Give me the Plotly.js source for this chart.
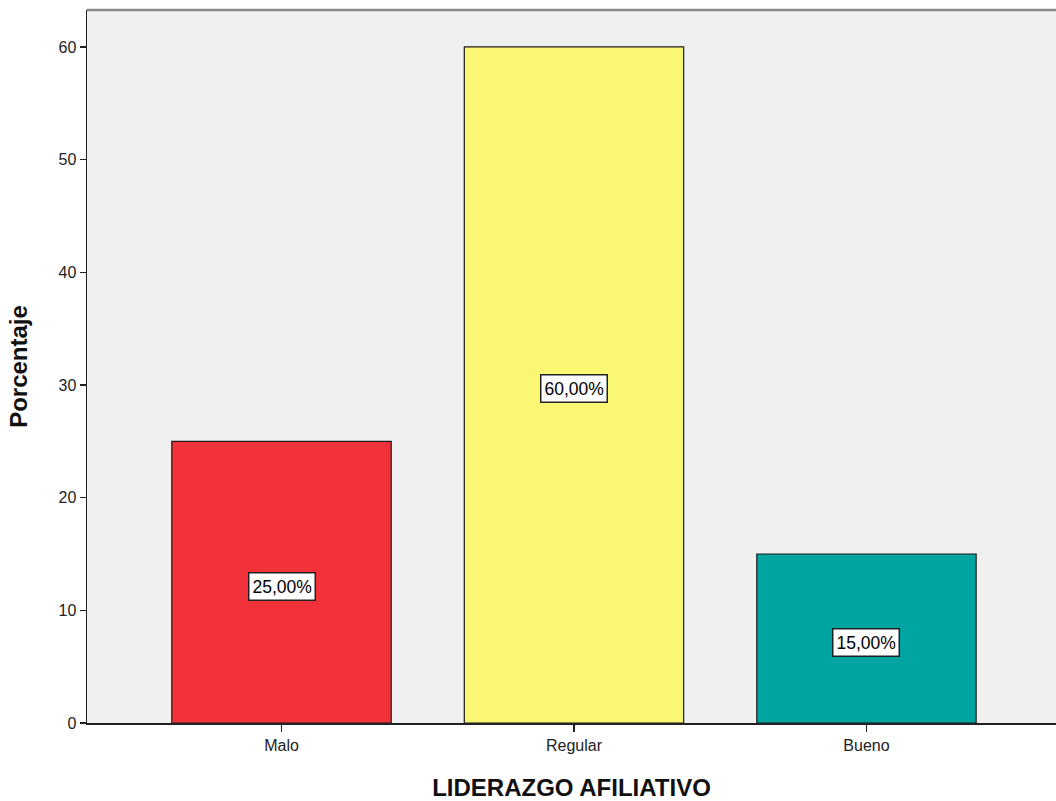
<!DOCTYPE html>
<html>
<head>
<meta charset="utf-8">
<script src="https://cdn.plot.ly/plotly-3.0.1.min.js"></script>
<style>html,body{margin:0;padding:0;background:#fff;}#chart{width:1056px;height:801px;}</style>
</head>
<body>
<div id="chart"></div>
<script>
const categories = ["Malo", "Regular", "Bueno"];
const values = [25, 60, 15];
const labels = ["25,00%", "60,00%", "15,00%"];
const colors = ["#F2323A", "#FAF775", "#00A5A2"];
const yTicks = [0, 10, 20, 30, 40, 50, 60];

const trace = {
  type: "bar",
  x: categories,
  y: values,
  width: 0.75,
  marker: {color: colors, line: {color: "#1a1a1a", width: 1.2}},
  hoverinfo: "none"
};

const annotations = categories.map((c, i) => ({
  x: c, y: values[i] / 2, xref: "x", yref: "y", yshift: -4,
  text: labels[i], showarrow: false,
  bgcolor: "#ffffff", bordercolor: "#222", borderwidth: 1.5, borderpad: 3,
  font: {family: "Arial, Liberation Sans, sans-serif", size: 17.5, color: "#000"}
}));

const layout = {
  width: 1056, height: 801,
  margin: {l: 87, r: 0, t: 10, b: 78},
  paper_bgcolor: "#ffffff",
  plot_bgcolor: "#F0F0F0",
  showlegend: false,
  bargap: 0.25,
  xaxis: {
    type: "category",
    range: [-0.665, 2.648],
    showgrid: false, zeroline: false,
    showline: true, linecolor: "#222", linewidth: 1.5,
    ticks: "outside", ticklen: 7, tickcolor: "#222", tickwidth: 1.5,
    tickfont: {family: "Arial, Liberation Sans, sans-serif", size: 16, color: "#222"},
    title: {text: "<b>LIDERAZGO AFILIATIVO</b>", standoff: 27,
      font: {family: "Arial, Liberation Sans, sans-serif", size: 24, color: "#111"}}
  },
  yaxis: {
    range: [0, 63.28],
    tickvals: yTicks,
    showgrid: false, zeroline: false,
    showline: true, linecolor: "#222", linewidth: 1.5,
    ticks: "outside", ticklen: 6, tickcolor: "#222", tickwidth: 1.5,
    tickfont: {family: "Arial, Liberation Sans, sans-serif", size: 16, color: "#222"},
    title: {text: "<b>Porcentaje</b>", standoff: 24,
      font: {family: "Arial, Liberation Sans, sans-serif", size: 24, color: "#111"}}
  },
  shapes: [{type: "line", xref: "paper", yref: "paper", x0: 0, x1: 1, y0: 1, y1: 1,
    line: {color: "#888", width: 2.5}}],
  annotations: annotations
};

Plotly.newPlot("chart", [trace], layout, {displayModeBar: false, staticPlot: true});
</script>
</body>
</html>
